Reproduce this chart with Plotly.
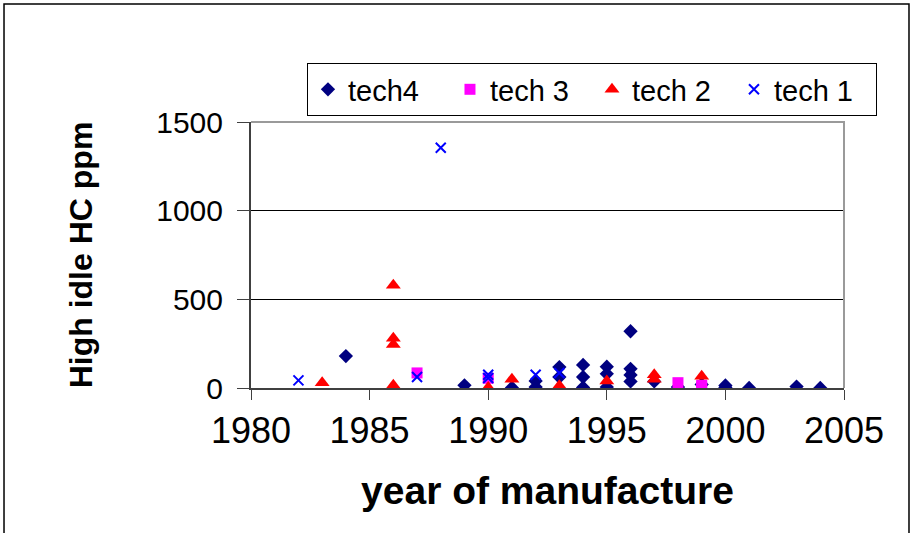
import plotly.graph_objects as go

# High idle HC emissions by model year, grouped by technology class
tech4_year = [1984, 1989, 1991, 1992, 1992, 1993, 1993, 1994, 1994, 1994, 1995, 1995, 1995,
              1996, 1996, 1996, 1996, 1997, 1998, 1999, 2000, 2000, 2001, 2003, 2004]
tech4_hc = [180, 15, 2, 40, 5, 118, 62, 130, 62, 3, 120, 80, 5,
            320, 108, 74, 37, 37, 5, 20, 14, 3, 0, 8, 0]

tech3_year = [1987, 1990, 1998, 1999, 1999]
tech3_hc = [85, 55, 30, 15, 5]

tech2_year = [1983, 1986, 1986, 1986, 1986, 1990, 1991, 1993, 1995, 1997, 1997, 1999]
tech2_hc = [30, 580, 280, 245, 15, 3, 50, 13, 40, 75, 50, 66]

tech1_year = [1982, 1987, 1988, 1990, 1990, 1992, 1993]
tech1_hc = [43, 62, 1355, 75, 56, 75, 85]

x_ticks = [1980, 1985, 1990, 1995, 2000, 2005]
y_ticks = [0, 500, 1000, 1500]

FONT = "Liberation Sans, Arial, sans-serif"

fig = go.Figure()
fig.add_trace(go.Scatter(
    x=tech4_year, y=tech4_hc, mode="markers", name="tech4",
    marker=dict(symbol="diamond", size=11, color="#000080", line=dict(width=0)),
))
fig.add_trace(go.Scatter(
    x=tech3_year, y=tech3_hc, mode="markers", name="tech 3",
    marker=dict(symbol="square", size=11, color="#FF00FF", line=dict(width=0)),
))
fig.add_trace(go.Scatter(
    x=tech2_year, y=tech2_hc, mode="markers", name="tech 2",
    marker=dict(symbol="triangle-up", size=13, color="#FF0000", line=dict(width=0)),
))
fig.add_trace(go.Scatter(
    x=tech1_year, y=tech1_hc, mode="markers", name="tech 1",
    marker=dict(symbol="x-thin", size=10, color="#0000FF",
                line=dict(color="#0000FF", width=2)),
))

fig.update_layout(
    width=913, height=533,
    margin=dict(l=251, r=69, t=122, b=145),
    paper_bgcolor="white", plot_bgcolor="white",
    font=dict(family=FONT, color="black"),
    showlegend=True,
    legend=dict(
        orientation="h", x=0.0944, y=1.222, xanchor="left", yanchor="top",
        bordercolor="black", borderwidth=1, bgcolor="white",
        font=dict(size=29, family=FONT), entrywidth=97,
    ),
    xaxis=dict(
        range=[1980, 2005], tickvals=x_ticks, ticktext=[str(v) for v in x_ticks],
        showgrid=False, zeroline=False,
        showline=True, linecolor="#404040", linewidth=2,
        ticks="outside", ticklen=10, tickcolor="#404040", tickwidth=1,
        tickfont=dict(size=36, family=FONT),
        title=dict(text="<b>year of manufacture</b>", font=dict(size=39, family=FONT),
                   standoff=26),
        automargin=False,
    ),
    yaxis=dict(
        range=[0, 1500], tickvals=y_ticks, ticktext=[str(v) for v in y_ticks],
        showgrid=True, gridcolor="black", gridwidth=1, zeroline=False,
        showline=True, linecolor="#404040", linewidth=2,
        ticks="outside", ticklen=12, tickcolor="#404040", tickwidth=1,
        tickfont=dict(size=30, family=FONT), ticklabelstandoff=8,
        title=dict(text="<b>High idle HC ppm</b>", font=dict(size=32, family=FONT),
                   standoff=54),
        automargin=False,
    ),
    shapes=[
        # grey plot-area border on top and right
        dict(type="path", xref="paper", yref="paper", path="M 0,1 L 1,1 L 1,0",
             line=dict(color="#9a9a9a", width=2), layer="above"),
        # outer chart frame
        dict(type="rect", xref="paper", yref="paper",
             x0=-0.4165, x1=1.1096, y0=-0.6, y1=1.4436,
             line=dict(color="black", width=1.5), layer="below"),
    ],
)

fig.write_html("out.html")
